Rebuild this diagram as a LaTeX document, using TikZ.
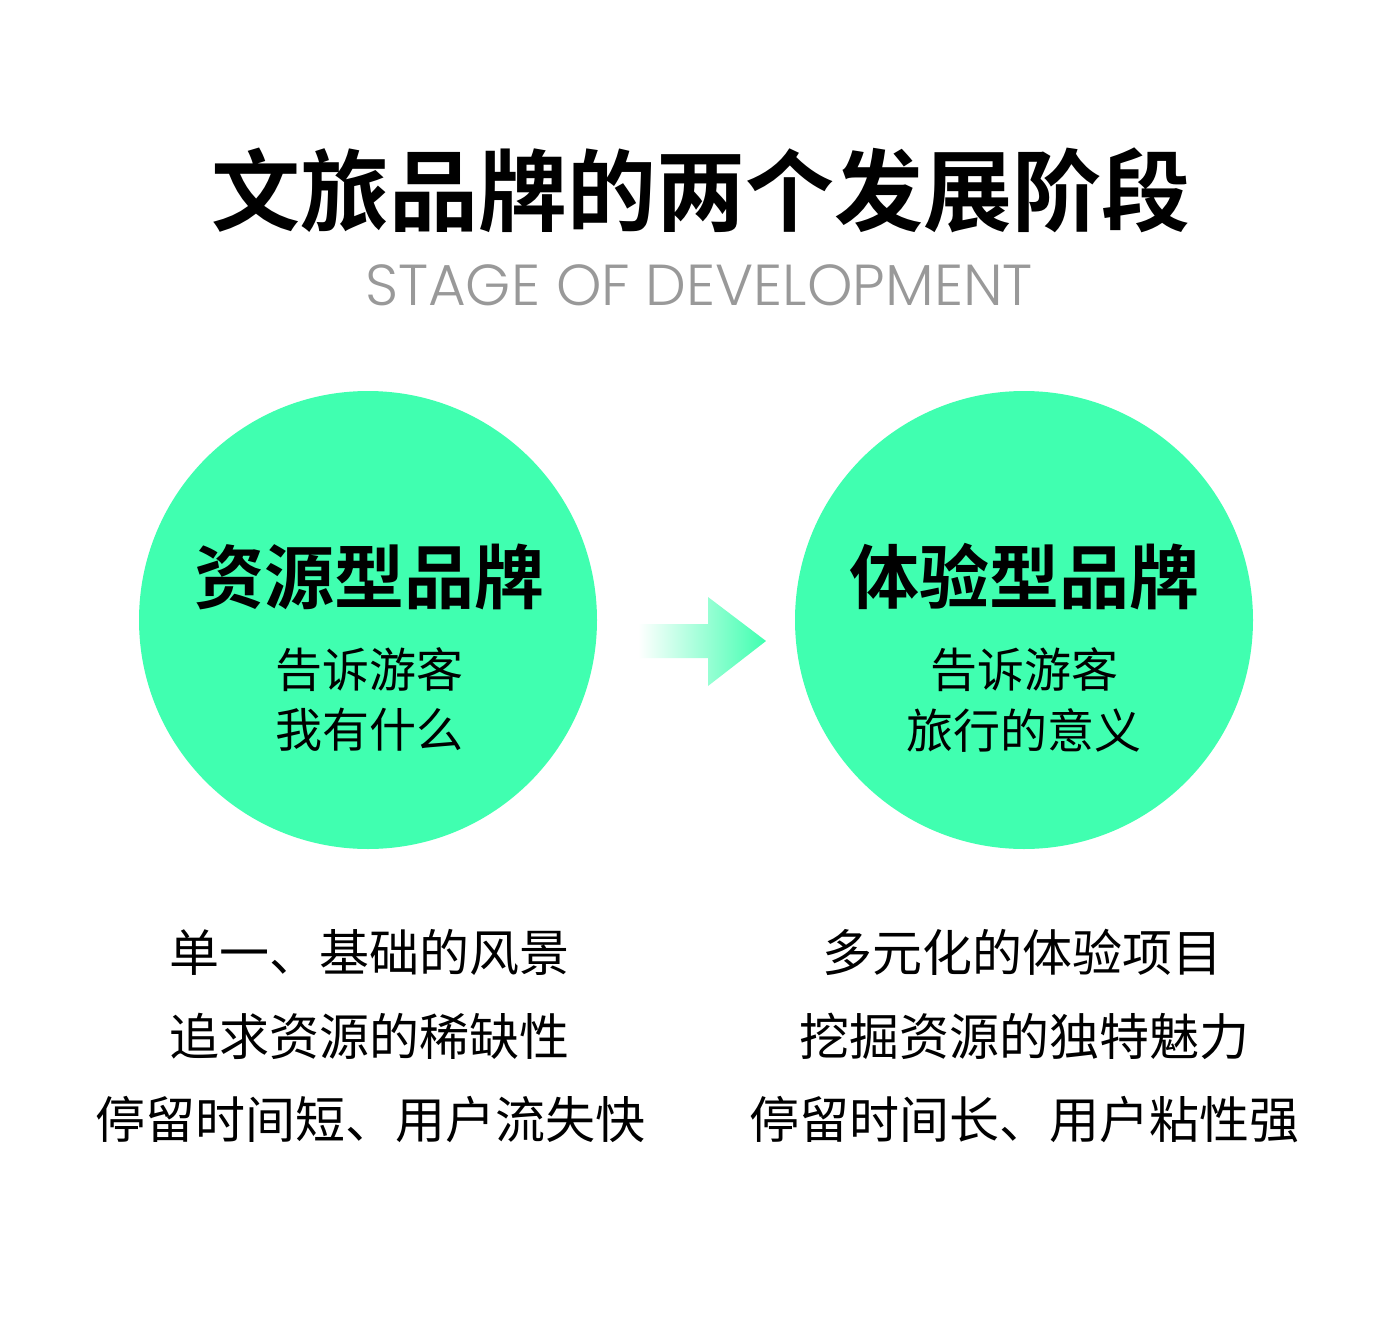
\documentclass[tikz,border=0pt]{standalone}
\usepackage{fontspec}
\newfontfamily\cjk{Noto Sans CJK SC}[BoldFont={Noto Sans CJK SC Bold}]
\newfontfamily\latin{Poppins Light}
\definecolor{mint}{RGB}{64,255,176}
\definecolor{subgray}{RGB}{153,153,153}
\begin{document}
\begin{tikzpicture}[x=1pt,y=-1pt,
  circ/.style={circle,fill=mint,minimum size=458pt,inner sep=0pt},
  ctitle/.style={font=\cjk\bfseries\fontsize{70}{80}\selectfont,inner sep=0pt,anchor=center},
  csub/.style={font=\cjk\fontsize{47}{60}\selectfont,inner sep=0pt,anchor=center},
  item/.style={font=\cjk\fontsize{50}{60}\selectfont,inner sep=0pt,anchor=center}]
\useasboundingbox[fill=white] (0,0) rectangle (1400,1343);
\node[font=\cjk\bfseries\fontsize{89}{100}\selectfont,inner sep=0pt] (title) at (701,190) {文旅品牌的两个发展阶段};
\node[font=\latin\fontsize{57.8}{60}\selectfont,text=subgray,inner sep=0pt] (sub) at (699,285) {STAGE OF DEVELOPMENT};
\node[circ] (c1) at (368,620) {};
\node[circ] (c2) at (1024,620) {};
\node[ctitle] (t1) at (369,577) {资源型品牌};
\node[csub] (s1a) at (369,670) {告诉游客};
\node[csub] (s1b) at (369,730) {我有什么};
\node[ctitle] (t2) at (1024,577) {体验型品牌};
\node[csub] (s2a) at (1024,670) {告诉游客};
\node[csub] (s2b) at (1024,730) {旅行的意义};
\shade[left color=white,right color=mint]
  (638,624) -- (708,624) -- (708,597) -- (766,641) -- (708,686) -- (708,658) -- (638,658) -- cycle;
\node[item] (l1) at (369,952) {单一、基础的风景};
\node[item] (l2) at (369,1036) {追求资源的稀缺性};
\node[item] (l3) at (370,1120) {停留时间短、用户流失快};
\node[item] (r1) at (1022,952) {多元化的体验项目};
\node[item] (r2) at (1024,1036) {挖掘资源的独特魅力};
\node[item] (r3) at (1024,1120) {停留时间长、用户粘性强};
\end{tikzpicture}
\end{document}
